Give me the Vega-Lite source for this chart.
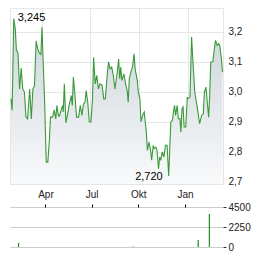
{
  "$schema": "https://vega.github.io/schema/vega-lite/v6.json",
  "padding": {"left": 8, "top": 7, "right": 0, "bottom": 0},
  "spacing": 1,
  "background": "white",
  "config": {
    "font": "Liberation Sans",
    "axis": {"labelFont": "Liberation Sans", "labelFontSize": 10, "labelColor": "#222222", "title": null},
    "view": {"stroke": "#e6e6e6"}
  },
  "datasets": {
    "px": [
      {"d": "2024-02-03", "p": 2.977}, {"d": "2024-02-05", "p": 2.938}, {"d": "2024-02-08", "p": 3.245},
      {"d": "2024-02-11", "p": 3.21}, {"d": "2024-02-13", "p": 3.14}, {"d": "2024-02-16", "p": 3.13},
      {"d": "2024-02-19", "p": 3.01}, {"d": "2024-02-22", "p": 3.08}, {"d": "2024-02-25", "p": 3.01},
      {"d": "2024-02-28", "p": 3.0}, {"d": "2024-03-02", "p": 2.916}, {"d": "2024-03-05", "p": 2.91},
      {"d": "2024-03-09", "p": 3.01}, {"d": "2024-03-12", "p": 2.91}, {"d": "2024-03-15", "p": 3.01},
      {"d": "2024-03-18", "p": 3.02}, {"d": "2024-03-21", "p": 3.17}, {"d": "2024-03-24", "p": 3.145},
      {"d": "2024-03-27", "p": 3.13}, {"d": "2024-03-30", "p": 3.125}, {"d": "2024-04-01", "p": 3.216},
      {"d": "2024-04-04", "p": 3.066}, {"d": "2024-04-06", "p": 2.97}, {"d": "2024-04-09", "p": 2.766},
      {"d": "2024-04-12", "p": 2.766}, {"d": "2024-04-15", "p": 2.84}, {"d": "2024-04-17", "p": 2.916},
      {"d": "2024-04-21", "p": 2.916}, {"d": "2024-04-24", "p": 2.94}, {"d": "2024-04-27", "p": 2.91},
      {"d": "2024-04-29", "p": 2.955}, {"d": "2024-05-02", "p": 2.92}, {"d": "2024-05-04", "p": 2.92},
      {"d": "2024-05-07", "p": 2.94}, {"d": "2024-05-10", "p": 2.955}, {"d": "2024-05-11", "p": 2.933},
      {"d": "2024-05-13", "p": 3.027}, {"d": "2024-05-16", "p": 2.897}, {"d": "2024-05-20", "p": 2.933},
      {"d": "2024-05-22", "p": 2.955}, {"d": "2024-05-26", "p": 2.988}, {"d": "2024-05-28", "p": 2.955},
      {"d": "2024-05-30", "p": 3.05}, {"d": "2024-06-02", "p": 2.988}, {"d": "2024-06-05", "p": 2.916},
      {"d": "2024-06-09", "p": 2.916}, {"d": "2024-06-12", "p": 2.955}, {"d": "2024-06-15", "p": 2.922},
      {"d": "2024-06-18", "p": 2.96}, {"d": "2024-06-21", "p": 2.966}, {"d": "2024-06-23", "p": 3.005},
      {"d": "2024-06-26", "p": 2.966}, {"d": "2024-06-29", "p": 2.9}, {"d": "2024-07-02", "p": 2.9},
      {"d": "2024-07-05", "p": 2.977}, {"d": "2024-07-07", "p": 3.116}, {"d": "2024-07-10", "p": 3.027},
      {"d": "2024-07-13", "p": 3.055}, {"d": "2024-07-16", "p": 3.01}, {"d": "2024-07-19", "p": 3.027},
      {"d": "2024-07-23", "p": 3.022}, {"d": "2024-07-26", "p": 2.977}, {"d": "2024-07-29", "p": 2.977},
      {"d": "2024-08-02", "p": 3.066}, {"d": "2024-08-04", "p": 3.1}, {"d": "2024-08-07", "p": 3.077},
      {"d": "2024-08-10", "p": 3.083}, {"d": "2024-08-13", "p": 3.055}, {"d": "2024-08-16", "p": 3.01},
      {"d": "2024-08-20", "p": 3.06}, {"d": "2024-08-23", "p": 3.11}, {"d": "2024-08-25", "p": 3.044},
      {"d": "2024-08-27", "p": 3.083}, {"d": "2024-08-29", "p": 3.038}, {"d": "2024-09-02", "p": 3.06},
      {"d": "2024-09-05", "p": 3.027}, {"d": "2024-09-08", "p": 3.005}, {"d": "2024-09-10", "p": 2.966},
      {"d": "2024-09-12", "p": 3.044}, {"d": "2024-09-15", "p": 3.066}, {"d": "2024-09-18", "p": 3.083},
      {"d": "2024-09-21", "p": 3.127}, {"d": "2024-09-23", "p": 3.077}, {"d": "2024-09-27", "p": 3.038},
      {"d": "2024-09-29", "p": 2.999}, {"d": "2024-10-02", "p": 2.977}, {"d": "2024-10-04", "p": 2.9},
      {"d": "2024-10-07", "p": 2.922}, {"d": "2024-10-10", "p": 2.933}, {"d": "2024-10-12", "p": 2.9},
      {"d": "2024-10-14", "p": 2.866}, {"d": "2024-10-16", "p": 2.805}, {"d": "2024-10-19", "p": 2.833},
      {"d": "2024-10-22", "p": 2.805}, {"d": "2024-10-24", "p": 2.772}, {"d": "2024-10-27", "p": 2.822},
      {"d": "2024-10-29", "p": 2.811}, {"d": "2024-11-01", "p": 2.816}, {"d": "2024-11-03", "p": 2.805},
      {"d": "2024-11-06", "p": 2.744}, {"d": "2024-11-08", "p": 2.783}, {"d": "2024-11-10", "p": 2.772},
      {"d": "2024-11-13", "p": 2.8}, {"d": "2024-11-16", "p": 2.783}, {"d": "2024-11-19", "p": 2.822},
      {"d": "2024-11-22", "p": 2.822}, {"d": "2024-11-25", "p": 2.72}, {"d": "2024-11-29", "p": 2.9},
      {"d": "2024-12-02", "p": 2.905}, {"d": "2024-12-04", "p": 2.933}, {"d": "2024-12-06", "p": 2.955},
      {"d": "2024-12-08", "p": 2.922}, {"d": "2024-12-11", "p": 2.955}, {"d": "2024-12-13", "p": 2.911},
      {"d": "2024-12-16", "p": 2.911}, {"d": "2024-12-18", "p": 2.866}, {"d": "2024-12-20", "p": 2.944},
      {"d": "2024-12-22", "p": 2.95}, {"d": "2024-12-24", "p": 2.883}, {"d": "2024-12-27", "p": 2.883},
      {"d": "2024-12-30", "p": 2.983}, {"d": "2024-12-31", "p": 2.977}, {"d": "2025-01-04", "p": 2.983},
      {"d": "2025-01-07", "p": 3.183}, {"d": "2025-01-10", "p": 3.088}, {"d": "2025-01-13", "p": 2.999},
      {"d": "2025-01-16", "p": 2.966}, {"d": "2025-01-19", "p": 2.933}, {"d": "2025-01-22", "p": 2.894},
      {"d": "2025-01-26", "p": 2.922}, {"d": "2025-01-29", "p": 2.927}, {"d": "2025-01-31", "p": 2.999},
      {"d": "2025-02-03", "p": 3.016}, {"d": "2025-02-06", "p": 2.955}, {"d": "2025-02-08", "p": 2.916},
      {"d": "2025-02-10", "p": 2.988}, {"d": "2025-02-12", "p": 3.1}, {"d": "2025-02-16", "p": 3.1},
      {"d": "2025-02-18", "p": 3.133}, {"d": "2025-02-21", "p": 3.172}, {"d": "2025-02-24", "p": 3.155},
      {"d": "2025-02-27", "p": 3.161}, {"d": "2025-03-01", "p": 3.155}, {"d": "2025-03-04", "p": 3.11},
      {"d": "2025-03-06", "p": 3.066}
    ],
    "ext": [
      {"d": "2024-02-08", "p": 3.245, "label": "3,245", "kind": "max"},
      {"d": "2024-11-25", "p": 2.72, "label": "2,720", "kind": "min"}
    ],
    "vol": [
      {"d": "2024-02-08", "v": 450, "dir": "up"},
      {"d": "2024-09-21", "v": 60, "dir": "down"},
      {"d": "2025-01-27", "v": 800, "dir": "up"},
      {"d": "2025-02-18", "v": 3700, "dir": "up"}
    ]
  },
  "vconcat": [
    {
      "width": 213,
      "height": 176,
      "view": {"stroke": "#e6e6e6"},
      "encoding": {
        "x": {
          "field": "d", "type": "temporal",
          "scale": {"domain": [{"year": 2024, "month": 2, "date": 1}, {"year": 2025, "month": 3, "date": 7}]},
          "axis": {
            "values": [{"year": 2024, "month": 4, "date": 1}, {"year": 2024, "month": 7, "date": 1}, {"year": 2024, "month": 10, "date": 1}, {"year": 2025, "month": 1, "date": 1}],
            "labels": false, "ticks": false, "domain": false, "grid": true, "gridColor": "#e6e6e6"
          }
        },
        "y": {
          "field": "p", "type": "quantitative",
          "scale": {"domain": [2.693, 3.28], "zero": false, "nice": false},
          "axis": {
            "orient": "right", "values": [2.7, 2.8, 2.9, 3.0, 3.1, 3.2],
            "labelExpr": "replace(format(datum.value, '.1f'), '.', ',')",
            "ticks": false, "domain": false, "labelPadding": 5, "grid": true, "gridColor": "#e6e6e6"
          }
        }
      },
      "layer": [
        {
          "data": {"name": "px"},
          "mark": {
            "type": "area",
            "fill": {"gradient": "linear", "x1": 0, "y1": 0, "x2": 0, "y2": 1,
              "stops": [{"offset": 0, "color": "#cdd4db"}, {"offset": 0.5, "color": "#e2e6ea"}, {"offset": 1, "color": "#f9fafb"}]}
          },
          "encoding": {"y2": {"datum": 2.693}}
        },
        {
          "data": {"name": "px"},
          "mark": {"type": "line", "color": "#3a9a3a", "strokeWidth": 1.1}
        },
        {
          "data": {"name": "ext"},
          "transform": [{"filter": "datum.kind === 'max'"}],
          "mark": {"type": "text", "align": "left", "baseline": "middle", "dx": 4, "fontSize": 11, "color": "#000000", "font": "Liberation Sans"},
          "encoding": {"text": {"field": "label"}}
        },
        {
          "data": {"name": "ext"},
          "transform": [{"filter": "datum.kind === 'min'"}],
          "mark": {"type": "text", "align": "right", "baseline": "middle", "dx": -6, "dy": 1, "fontSize": 11, "color": "#000000", "font": "Liberation Sans"},
          "encoding": {"text": {"field": "label"}}
        }
      ]
    },
    {
      "width": 213,
      "height": 40,
      "view": {"stroke": null},
      "data": {"name": "vol"},
      "mark": {"type": "bar", "size": 1.2},
      "encoding": {
        "x": {
          "field": "d", "type": "temporal",
          "scale": {"domain": [{"year": 2024, "month": 2, "date": 1}, {"year": 2025, "month": 3, "date": 7}]},
          "axis": {
            "orient": "top",
            "values": [{"year": 2024, "month": 4, "date": 1}, {"year": 2024, "month": 7, "date": 1}, {"year": 2024, "month": 10, "date": 1}, {"year": 2025, "month": 1, "date": 1}],
            "labelExpr": "['Jan','Feb','Mär','Apr','Mai','Jun','Jul','Aug','Sep','Okt','Nov','Dez'][month(datum.value)]",
            "domain": false, "grid": false, "ticks": true, "tickSize": 3, "tickColor": "#000000", "labelPadding": 5
          }
        },
        "y": {
          "field": "v", "type": "quantitative",
          "scale": {"domain": [0, 4500], "nice": false},
          "axis": {
            "orient": "right", "values": [0, 2250, 4500], "format": "d",
            "domain": false, "ticks": true, "tickSize": 3, "tickColor": "#333333", "labelPadding": 2,
            "grid": true, "gridColor": "#cccccc"
          }
        },
        "color": {
          "field": "dir", "type": "nominal",
          "scale": {"domain": ["up", "down"], "range": ["#1f8f1f", "#cc2222"]},
          "legend": null
        }
      }
    }
  ]
}
